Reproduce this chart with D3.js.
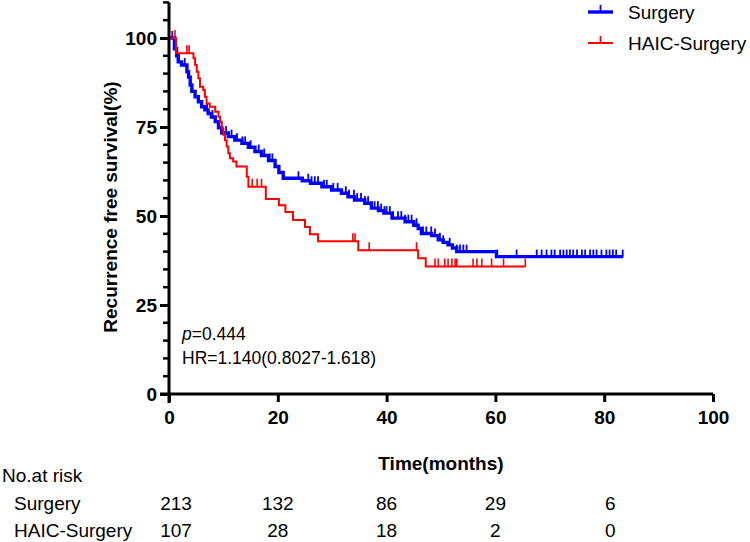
<!DOCTYPE html>
<html>
<head>
<meta charset="utf-8">
<script src="https://cdn.jsdelivr.net/npm/d3@7"></script>
<style>
  body { margin: 0; background: #fff; }
  text { font-family: Arial, "Liberation Sans", sans-serif; }
  .tick-label { font-size: 19px; font-weight: bold; }
  .axis-title { font-size: 19px; font-weight: bold; }
  .plain { font-size: 19px; }
</style>
</head>
<body>
<div id="chart"></div>
<script>
// Kaplan-Meier steps: drop at time -> survival (%)
const surgeryTimes  = [0, 1.0, 1.4, 1.7, 2.3, 3.3, 3.6, 3.9, 4.2, 4.8, 5.4, 6.0, 6.6, 7.2, 7.8, 8.5, 9.1, 9.7, 10.9, 12.1, 13.4, 14.6, 15.8, 17.0, 18.3, 19.5, 20.2, 21.0, 24.5, 26.0, 28.1, 29.9, 31.7, 32.9, 34.1, 36.0, 37.2, 38.5, 39.5, 41.0, 43.4, 45.0, 45.8, 46.4, 48.3, 49.5, 50.4, 51.3, 52.1, 52.9, 60.2];
const surgeryValues = [100, 97, 95, 93.3, 92.4, 90.5, 89, 86.8, 85, 83.5, 82.1, 80.7, 79.8, 78.8, 77.8, 76.5, 74.8, 73.3, 72.3, 71.3, 70.4, 69.3, 68.1, 67.0, 65.6, 63.9, 62.2, 60.6, 59.9, 59.2, 58.2, 57.3, 56.4, 55.4, 54.5, 53.6, 52.2, 51.5, 50.8, 49.4, 48.4, 47.4, 46.5, 45.1, 44.5, 43.3, 42.6, 41.9, 41.0, 40.0, 38.6];
const surgeryCensor = [0.6, 2.9, 7.0, 8.0, 10.5, 11.5, 12.5, 13.5, 14.0, 15.0, 16.5, 17.5, 18.5, 19.0, 23.8, 25.6, 26.2, 26.8, 27.4, 28.5, 29.0, 30.2, 31.0, 32.5, 33.1, 34.0, 34.6, 35.3, 36.0, 36.6, 37.2, 37.8, 38.4, 39.0, 39.6, 40.0, 40.6, 41.2, 42.1, 42.7, 43.4, 44.0, 44.6, 45.5, 46.7, 47.3, 48.2, 48.9, 49.8, 50.4, 51.6, 52.9, 53.5, 54.1, 54.7, 60.2, 63.9, 67.6, 68.5, 69.4, 70.3, 70.9, 71.9, 72.5, 73.1, 73.7, 74.3, 75.0, 75.9, 76.5, 77.4, 78.0, 78.6, 79.5, 80.4, 81.0, 81.6, 82.2, 83.4];
const surgeryEnd = 83.5;

const haicTimes  = [0, 1.3, 4.5, 4.8, 5.1, 5.4, 5.7, 6.3, 6.6, 6.9, 7.5, 8.5, 9.1, 9.4, 9.7, 10.0, 10.3, 10.6, 10.9, 11.2, 11.8, 12.4, 14.3, 14.6, 17.8, 20.2, 21.4, 22.8, 25.0, 25.9, 27.4, 34.8, 45.8, 47.2];
const haicValues = [100, 95.7, 94.3, 92.4, 90.5, 88.7, 86.3, 85.4, 83.5, 81.6, 80.7, 79.3, 77.9, 76.5, 74.6, 72.8, 71.3, 69.5, 67.6, 66.2, 65.3, 63.9, 61.0, 58.2, 54.8, 53.0, 51.1, 48.9, 46.9, 44.9, 42.9, 40.4, 38.1, 35.8];
const haicCensor = [1.1, 3.3, 3.7, 15.3, 16.2, 17.0, 33.8, 34.2, 36.8, 45.5, 48.9, 49.5, 50.7, 51.3, 52.0, 52.6, 52.9, 55.9, 56.6, 57.5, 59.3, 61.5, 65.5];
const haicEnd = 65.5;

const seriesNames = ["Surgery", "HAIC-Surgery"];
const seriesColors = ["#0000ff", "#ff0000"];

const xTicks = [0, 20, 40, 60, 80, 100];
const yTicks = [0, 25, 50, 75, 100];

const riskTimes   = [0, 20, 40, 60, 80];
const riskSurgery = [213, 132, 86, 29, 6];
const riskHaic    = [107, 28, 18, 2, 0];

const W = 750, H = 542;

const svg = d3.select("#chart")
              .append("svg")
              .attr("width", W)
              .attr("height", H);

// scales
const x = d3.scaleLinear().domain([0, 100]).range([169, 713]);
const y = d3.scaleLinear().domain([0, 110]).range([394, 2.4]);

// survival at time t from a step function
function survAt(times, values, t) {
    const i = d3.bisectRight(times, t) - 1;
    return values[Math.max(0, i)];
}

const stepLine = d3.line()
                   .x(d => x(d[0]))
                   .y(d => y(d[1]))
                   .curve(d3.curveStepAfter);

const series = [
    {times: surgeryTimes, values: surgeryValues, censor: surgeryCensor, end: surgeryEnd, width: 3.4, tickW: 1.8, tickLen: 7},
    {times: haicTimes, values: haicValues, censor: haicCensor, end: haicEnd, width: 2, tickW: 1.6, tickLen: 8}
];

series.forEach((s, k) => {
    const pts = s.times.map((t, i) => [t, s.values[i]]);
    pts.push([s.end, s.values[s.values.length - 1]]);

    svg.append("path")
       .datum(pts)
       .attr("d", stepLine)
       .attr("fill", "none")
       .attr("stroke", seriesColors[k])
       .attr("stroke-width", s.width);

    // censor marks
    svg.append("g")
       .selectAll("line")
       .data(s.censor)
       .join("line")
       .attr("x1", d => x(d))
       .attr("x2", d => x(d))
       .attr("y1", d => y(survAt(s.times, s.values, d)))
       .attr("y2", d => y(survAt(s.times, s.values, d)) - s.tickLen)
       .attr("stroke", seriesColors[k])
       .attr("stroke-width", s.tickW);
});

// X axis
const xAxis = svg.append("g")
   .attr("transform", `translate(0,${y(0)})`)
   .call(d3.axisBottom(x).tickValues(xTicks).tickSize(8).tickPadding(6).tickFormat(d3.format("d")));
xAxis.select(".domain").attr("stroke", "#000").attr("stroke-width", 3)
     .attr("d", `M${x(0) - 9},0H${x(100)}`);
xAxis.selectAll(".tick line").attr("stroke", "#000").attr("stroke-width", 3);
xAxis.selectAll(".tick text").attr("class", "tick-label").attr("fill", "#000").attr("dy", "0.85em");

// Y axis with minor ticks
const yMinor = d3.range(0, 111, 5).filter(v => !yTicks.includes(v));
svg.append("g")
   .attr("transform", `translate(${x(0)},0)`)
   .selectAll("line")
   .data(yMinor)
   .join("line")
   .attr("x1", -6).attr("x2", 0)
   .attr("y1", d => y(d)).attr("y2", d => y(d))
   .attr("stroke", "#000").attr("stroke-width", 2.5);

const yAxis = svg.append("g")
   .attr("transform", `translate(${x(0)},0)`)
   .call(d3.axisLeft(y).tickValues(yTicks).tickSize(9).tickPadding(3));
yAxis.select(".domain").attr("stroke", "#000").attr("stroke-width", 3)
     .attr("d", `M0,${y(110)}V${y(0) + 9}`);
yAxis.selectAll(".tick line").attr("stroke", "#000").attr("stroke-width", 3);
yAxis.selectAll(".tick text").attr("class", "tick-label").attr("fill", "#000");

// axis titles
svg.append("text")
   .attr("class", "axis-title")
   .attr("x", x(50))
   .attr("y", 470)
   .attr("text-anchor", "middle")
   .text("Time(months)");

svg.append("text")
   .attr("class", "axis-title")
   .attr("transform", "translate(117,207) rotate(-90)")
   .attr("text-anchor", "middle")
   .text("Recurrence free survival(%)");

// statistics
const stats = svg.append("text").attr("class", "plain").attr("x", 182).attr("y", 340).style("font-size", "17.5px");
stats.append("tspan").style("font-style", "italic").text("p");
stats.append("tspan").text("=0.444");
svg.append("text").attr("class", "plain").attr("x", 182).attr("y", 364).style("font-size", "17.5px")
   .text("HR=1.140(0.8027-1.618)");

// legend
const legend = svg.append("g").attr("transform", "translate(588,0)");
seriesNames.forEach((name, i) => {
    const ly = 12 + i * 31;
    legend.append("line").attr("x1", 0).attr("x2", 25).attr("y1", ly).attr("y2", ly)
          .attr("stroke", seriesColors[i]).attr("stroke-width", i === 0 ? 3.4 : 2);
    legend.append("line").attr("x1", 12.5).attr("x2", 12.5).attr("y1", ly).attr("y2", ly - 7)
          .attr("stroke", seriesColors[i]).attr("stroke-width", 1.8);
    legend.append("text").attr("class", "plain").attr("x", 40).attr("y", ly + 7).text(name);
});

// number at risk table
svg.append("text").attr("class", "plain").attr("x", 2).attr("y", 482).text("No.at risk");
const rows = [["Surgery", riskSurgery, 510], ["HAIC-Surgery", riskHaic, 537]];
rows.forEach(([label, vals, ry]) => {
    svg.append("text").attr("class", "plain").attr("x", 14).attr("y", ry).text(label);
    svg.append("g")
       .selectAll("text")
       .data(vals)
       .join("text")
       .attr("class", "plain")
       .attr("x", (d, i) => x(riskTimes[i]) + (i === 0 ? 7 : i === 4 ? 6 : 0))
       .attr("y", ry)
       .attr("text-anchor", "middle")
       .text(d => d);
});
</script>
</body>
</html>
